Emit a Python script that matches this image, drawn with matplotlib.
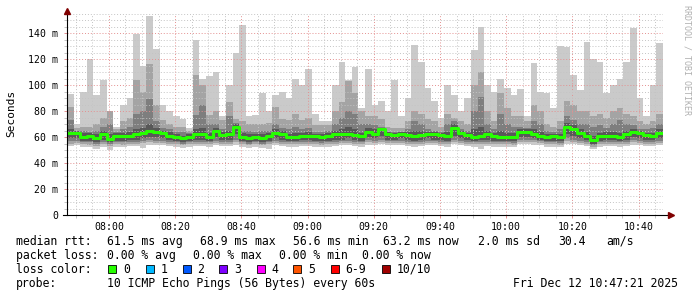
import numpy as np
import matplotlib
matplotlib.use("Agg")
import matplotlib.pyplot as plt
from matplotlib.patches import Rectangle

# time axis: minutes after midnight, 2 minute steps from 07:47:21
t_start = 7 * 60 + 47 + 21 / 60
t_step = 2.0

# median rtt (ms)
med = [63, 63, 60, 61, 59, 62, 58.5, 61, 61, 61,
       62, 63, 65, 64, 63, 61, 60, 59, 60, 62.5,
       62, 60, 65, 61.5, 62, 68, 60, 59, 60, 59,
       61, 63, 62.5, 60, 60, 60.5, 61, 60.5, 60, 60.5,
       62, 62, 62.5, 61.5, 60.5, 64, 62.5, 66, 62, 61.5,
       62.5, 61.5, 60.5, 61.5, 62, 62, 61.5, 60.5, 67, 63,
       61.5, 60, 61, 62, 60.5, 60, 60, 60, 64, 64,
       62.5, 61, 60, 60.5, 60, 68, 66, 63, 61, 57.5,
       60.5, 61, 61, 60, 62, 64, 63, 61.5, 61, 63]

# sorted ping values (smoke), from lowest to highest
p1 = [53, 53.5, 52.5, 52, 51, 52.5, 50, 52.5, 52, 53,
      53, 51.5, 54, 53.5, 53.5, 53, 52.5, 51.5, 52.5, 53,
      53, 52.5, 53.5, 53, 53, 54, 52.5, 51.5, 52.5, 51.5,
      50.5, 53.5, 53, 52.5, 52.5, 53, 53, 52.5, 52, 52.5,
      53, 53.5, 53.5, 53, 52.5, 54, 53.5, 54.5, 53.5, 53.5,
      53.5, 53, 52.5, 53, 53.5, 53.5, 53, 52.5, 54.5, 53.5,
      53, 52.5, 51, 53, 52.5, 52.5, 52.5, 52, 54.5, 54.5,
      54, 53.5, 52.5, 52.5, 52, 55, 54.5, 53.5, 53, 50.5,
      52.5, 53, 53, 52.5, 53, 54, 53.5, 53, 53, 53.5]
p2 = [55, 55.5, 54.5, 54, 53, 54.5, 53, 54.5, 54, 55,
      55, 55.5, 56, 55.5, 55.5, 55, 54.5, 53.5, 54.5, 55,
      55, 54.5, 55.5, 55, 55, 56, 54.5, 53.5, 54.5, 53.5,
      54.5, 55.5, 55, 54.5, 54.5, 55, 55, 54.5, 54, 54.5,
      55, 55.5, 55.5, 55, 54.5, 56, 55.5, 56.5, 55.5, 55.5,
      55.5, 55, 54.5, 55, 55.5, 55.5, 55, 54.5, 56.5, 55.5,
      55, 54.5, 55, 55, 54.5, 54.5, 54.5, 54, 56.5, 56.5,
      56, 55.5, 54.5, 54.5, 54, 57, 56.5, 55.5, 55, 52.5,
      54.5, 55, 55, 54.5, 55, 56, 55.5, 55, 55, 55.5]
p3 = [57, 57, 56, 56, 54.5, 56, 54.5, 56, 56, 56.5,
      56.5, 57, 57.5, 57, 57, 56.5, 56, 55, 56, 56.5,
      56.5, 56, 57, 56.5, 56.5, 58, 56, 55, 56, 55,
      56, 57, 56.5, 56, 56, 56.5, 56.5, 56, 55.5, 56,
      56.5, 57, 57, 56.5, 56, 58, 57, 58, 57, 57,
      57, 56.5, 56, 56.5, 57, 57, 56.5, 56, 58, 57,
      56.5, 56, 56.5, 56.5, 56, 56, 56, 55.5, 58, 58,
      57.5, 57, 56, 56, 55.5, 59, 58, 57, 56.5, 54,
      56, 56.5, 56.5, 56, 56.5, 57.5, 57, 56.5, 56.5, 57]
p4 = [59, 59, 57, 57, 56, 58, 56, 57, 57, 58,
      58, 59, 60, 60, 59, 58, 57, 56, 57, 58,
      58, 57, 60, 58, 58, 62, 57, 56, 57, 56,
      57, 59, 58, 57, 57, 58, 58, 57, 57, 57,
      58, 58, 59, 58, 57, 60, 59, 61, 58, 58,
      59, 58, 57, 58, 59, 58, 58, 57, 61, 59,
      58, 57, 58, 58, 57, 57, 57, 57, 60, 60,
      59, 58, 57, 57, 57, 62, 61, 59, 58, 55,
      57, 58, 58, 57, 58, 60, 59, 58, 58, 59]
p7 = [66, 65, 63, 63, 62, 65, 62, 63, 63, 64,
      66, 67, 70, 67, 65, 64, 62, 61, 62, 66,
      67, 63, 67, 64, 65, 70, 63, 62, 62, 62,
      63, 66, 65, 62, 63, 63, 64, 62, 62, 63,
      65, 66, 68, 66, 63, 67, 66, 67, 63.5, 63,
      63.5, 64, 65, 65, 64, 64, 63, 64, 70, 65,
      63, 66, 68, 65, 63, 65, 63, 63, 66, 66,
      66, 64, 62, 62, 62, 71, 69, 66, 64, 61,
      63, 64, 64, 63, 65, 66, 65, 63, 63, 66]
p8 = [73, 65, 65, 64, 65, 68, 70, 64, 66, 68,
      78, 80, 89, 72, 67, 66, 64, 64, 63, 77,
      85, 70, 70, 66, 76, 71, 65, 65, 64, 65,
      65, 70, 67, 66, 68, 66, 67, 64, 64, 65,
      70, 75, 80, 78, 70, 70, 69, 68, 64, 64,
      64, 66, 72, 70, 66, 65, 64, 70, 72, 66,
      65, 80, 91, 70, 66, 78, 70, 68, 68, 67,
      72, 70, 65, 64, 66, 76, 73, 70, 70, 68,
      69, 67, 70, 73, 70, 69, 66, 66, 67, 70]
p9 = [83, 67, 68, 68, 70, 75, 80, 66, 72, 75,
      104, 95, 116, 85, 73, 70, 68, 68, 65, 108,
      100, 77, 80, 73, 87, 74, 72, 70, 70, 70,
      71, 83, 74, 73, 78, 73, 75, 69, 69, 69,
      80, 87, 103, 94, 80, 76, 76, 74, 68, 67,
      67, 72, 80, 78, 74, 72, 68, 78, 75, 72,
      70, 100, 110, 80, 72, 94, 82, 76, 76, 72,
      85, 80, 70, 68, 72, 88, 85, 80, 80, 76,
      78, 75, 80, 82, 78, 76, 72, 70, 72, 78]
p10 = [93, 70, 95, 120, 92, 104, 75, 68, 85, 90,
       139, 115, 153, 128, 85, 80, 76, 74, 67, 135,
       105, 107, 110, 76, 100, 125, 146, 76, 77, 94,
       80, 92, 95, 90, 105, 100, 112, 78, 72, 72,
       100, 118, 104, 114, 82, 112, 85, 88, 80, 104,
       76, 90, 131, 118, 98, 88, 75, 100, 92, 80,
       90, 127, 145, 100, 95, 105, 98, 92, 97, 76,
       117, 95, 94, 82, 130, 129, 108, 96, 133, 120,
       118, 94, 100, 105, 118, 144, 90, 76, 100, 132]

y_ticks = [0, 20, 40, 60, 80, 100, 120, 140]
x_ticks = [480, 500, 520, 540, 560, 580, 600, 620, 640]

stats_rtt = ["61.5 ms avg", "68.9 ms max", "56.6 ms min", "63.2 ms now", "2.0 ms sd", "30.4", "am/s"]
stats_loss = ["0.00 % avg", "0.00 % max", "0.00 % min", "0.00 % now"]
loss_labels = ["0", "1", "2", "3", "4", "5", "6-9", "10/10"]
loss_colors = ["#26ff00", "#00b8ff", "#0059ff", "#7e00ff", "#ff00ff", "#ff5500", "#ff0000", "#a00000"]
probe_text = "10 ICMP Echo Pings (56 Bytes) every 60s"
date_text = "Fri Dec 12 10:47:21 2025"

W, H = 697, 297
mono = "DejaVu Sans Mono"
plt.rcParams["font.family"] = mono


def fx(x):
    return x / W


def fy(y):
    return 1 - y / H


n = len(med)
t = t_start + t_step * np.arange(n + 1)


def ext(a):
    return np.append(a, a[-1])


fig = plt.figure(figsize=(W / 100, H / 100), dpi=100)
fig.patch.set_facecolor("white")
ax = fig.add_axes([fx(67), fy(215), 596 / W, (215 - 13.5) / H])
ax.set_xlim(t_start, t_start + t_step * n)
ax.set_ylim(0, 155)

# smoke bands, outermost first
bands = [(p1, p10, "#cacaca"), (p2, p9, "#a4a4a4"), (p3, p8, "#7e7e7e"), (p4, p7, "#585858")]
for lo, hi, col in bands:
    ax.fill_between(t, ext(lo), ext(hi), step="post", color=col, lw=0, zorder=1)

ax.step(t, ext(med), where="post", color="#26ff00", lw=2.2, zorder=3)

# grid
ax.set_yticks(y_ticks)
ax.set_yticks(np.arange(0, 156, 5), minor=True)
ax.set_xticks(x_ticks)
ax.set_xticks(np.arange(470, 648, 5), minor=True)
ax.set_yticklabels(["0" if v == 0 else f"{v} m" for v in y_ticks])
ax.set_xticklabels([f"{v // 60:02d}:{v % 60:02d}" for v in x_ticks])
ax.set_axisbelow(False)
ax.grid(which="minor", color="#c4c4c4", ls=(0, (1, 2)), lw=0.7)
ax.grid(which="major", color="#e49090", ls=(0, (1, 2)), lw=0.7)
ax.tick_params(which="both", labelsize=7.1, length=2, width=0.7, pad=3)
ax.tick_params(which="major", colors="#e49090", labelcolor="black")
ax.tick_params(which="minor", colors="#c4c4c4")
ax.tick_params(axis="y", pad=4.5)
for s in ax.spines.values():
    s.set_visible(False)

# axis lines with arrows
ax.plot([0, 0], [0, 1.008], color="black", lw=0.8, transform=ax.transAxes, clip_on=False, zorder=4)
ax.plot([-0.006, 1.009], [0, 0], color="black", lw=0.8, transform=ax.transAxes, clip_on=False, zorder=4)
ax.plot([0], [1.013], marker="^", ms=4.5, color="#800000", mec="#800000",
        transform=ax.transAxes, clip_on=False, zorder=5)
ax.plot([1.013], [0], marker=">", ms=4.5, color="#800000", mec="#800000",
        transform=ax.transAxes, clip_on=False, zorder=5)

fig.text(fx(11), fy(113.5), "Seconds", rotation=90, ha="center", va="center", fontsize=8)
fig.text(fx(687), fy(5), "RRDTOOL / TOBI OETIKER", rotation=270, ha="center", va="top",
         fontsize=6, color="#b0b0b0")

# legend rows
fs = 8.3
fig.text(fx(16), fy(244.7), "median rtt:", fontsize=fs, va="baseline")
for x, s in zip([107.3, 200, 292.7, 383.3, 478.3, 558.3, 606.7], stats_rtt):
    fig.text(fx(x), fy(244.7), s, fontsize=fs, va="baseline")

fig.text(fx(16), fy(258.7), "packet loss:", fontsize=fs, va="baseline")
for x, s in zip([107.3, 193.3, 279.3, 361.7], stats_loss):
    fig.text(fx(x), fy(258.7), s, fontsize=fs, va="baseline")

fig.text(fx(16), fy(272.7), "loss color:", fontsize=fs, va="baseline")
for x, lab, col in zip([108.3, 145.7, 182.7, 219.3, 256.7, 293.3, 330.7, 381.7], loss_labels, loss_colors):
    fig.add_artist(Rectangle((fx(x), fy(272.7)), 8 / W, 8 / H, transform=fig.transFigure,
                             facecolor=col, edgecolor="black", lw=0.6))
    fig.text(fx(x + 14.7), fy(272.7), lab, fontsize=fs, va="baseline")

fig.text(fx(16), fy(286.7), "probe:", fontsize=fs, va="baseline")
fig.text(fx(107.3), fy(286.7), probe_text, fontsize=fs, va="baseline")
fig.text(fx(513.3), fy(286.7), date_text, fontsize=fs, va="baseline")

fig.savefig("out.png", dpi=100)
